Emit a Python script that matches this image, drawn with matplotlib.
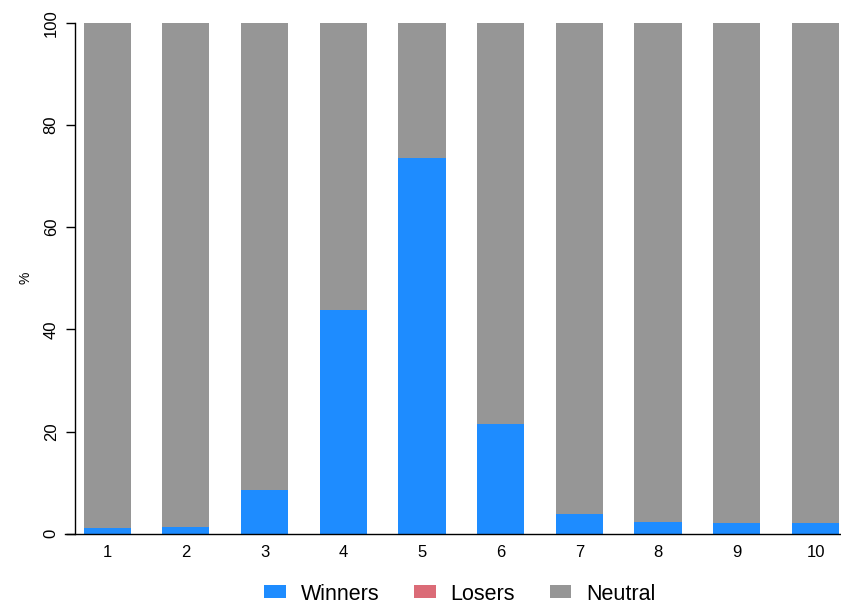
import numpy as np
import matplotlib.pyplot as plt

plt.rcParams['font.family'] = ['Liberation Sans', 'DejaVu Sans']

# доли по группам, %
groups = [1, 2, 3, 4, 5, 6, 7, 8, 9, 10]
winners = [1.1, 1.3, 8.6, 43.8, 73.5, 21.5, 3.8, 2.3, 2.1, 2.0]
losers = [0, 0, 0, 0, 0, 0, 0, 0, 0, 0]
neutral = [100 - w - l for w, l in zip(winners, losers)]

c_win = '#1E8CFF'
c_los = '#DB6B77'
c_neu = '#969696'

fig = plt.figure(figsize=(8.41, 6.04), dpi=100)
ax = fig.add_axes([65 / 841, 1 - 533.7 / 604, 1 - 65 / 841, (533.7 - 22.7) / 604])

x = np.array(groups)
w = np.array(winners)
l = np.array(losers)
n = np.array(neutral)

ax.bar(x, w, 0.6, color=c_win, label='Winners')
ax.bar(x, l, 0.6, bottom=w, color=c_los, label='Losers')
ax.bar(x, n, 0.6, bottom=w + l, color=c_neu, label='Neutral')

ax.set_xlim(0.464, 10.324)
ax.set_ylim(0, 100)

ax.spines['top'].set_visible(False)
ax.spines['right'].set_visible(False)
ax.spines['left'].set_position(('data', 0.587))
ax.spines['left'].set_linewidth(1.0)
ax.spines['bottom'].set_linewidth(1.0)

ax.set_xticks(x)
ax.set_xticklabels([str(g) for g in groups])
ax.tick_params(axis='x', length=0, pad=8, labelsize=12)
ax.set_yticks([0, 20, 40, 60, 80, 100])
ax.tick_params(axis='y', length=6.5, width=1.0, pad=5, labelsize=12)
for t in ax.get_yticklabels():
    t.set_rotation(90)
    t.set_va('center')

fig.text(25 / 841, 1 - 278 / 604, '%', rotation=90, ha='center', va='center', fontsize=10)

fig.legend(loc='center', bbox_to_anchor=(460 / 841, 1 - 594 / 604), ncol=3, frameon=False,
           fontsize=15.5, handlelength=1.0, handleheight=0.55, handletextpad=0.7,
           columnspacing=1.6)

fig.savefig('out.png', dpi=100)
